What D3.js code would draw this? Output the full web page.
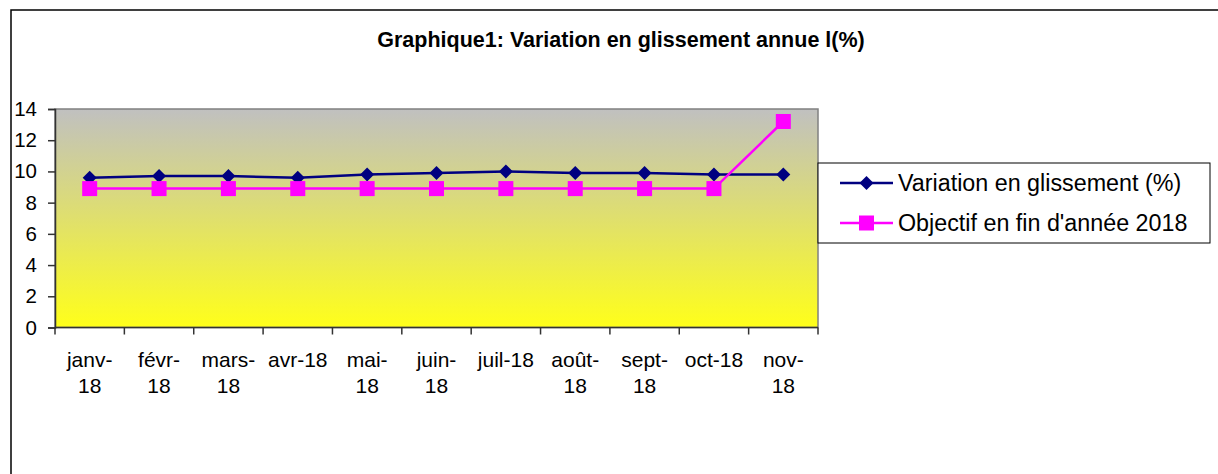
<!DOCTYPE html>
<html>
<head>
<meta charset="utf-8">
<script src="https://cdn.jsdelivr.net/npm/d3@7"></script>
<style>
  body { margin: 0; background: #fff; }
  svg { display: block; font-family: "Liberation Sans", Arial, sans-serif; }
</style>
</head>
<body>
<svg id="chart" width="1218" height="474"></svg>
<script>
const months = ["janv-18", "févr-18", "mars-18", "avr-18", "mai-18", "juin-18", "juil-18", "août-18", "sept-18", "oct-18", "nov-18"];
// how the axis wraps each label
const monthLines = [["janv-", "18"], ["févr-", "18"], ["mars-", "18"], ["avr-18"], ["mai-", "18"], ["juin-", "18"], ["juil-18"], ["août-", "18"], ["sept-", "18"], ["oct-18"], ["nov-", "18"]];
const variation = [9.6, 9.7, 9.7, 9.6, 9.8, 9.9, 10.0, 9.9, 9.9, 9.8, 9.8];
const objectif = [8.9, 8.9, 8.9, 8.9, 8.9, 8.9, 8.9, 8.9, 8.9, 8.9, 13.2];
const yTicks = [0, 2, 4, 6, 8, 10, 12, 14];

const svg = d3.select("#chart");
const plot = {left: 55, top: 109, right: 818, bottom: 327.5};

// outer frame (right and bottom edges fall outside the picture)
svg.append("rect")
    .attr("x", 11).attr("y", 10)
    .attr("width", 1240).attr("height", 500)
    .attr("fill", "none").attr("stroke", "#000").attr("stroke-width", 1.5);

svg.append("text")
    .attr("x", 621).attr("y", 47)
    .attr("text-anchor", "middle")
    .attr("font-size", 21.5).attr("font-weight", "bold")
    .text("Graphique1: Variation en glissement annue l(%)");

const defs = svg.append("defs");
const grad = defs.append("linearGradient")
    .attr("id", "bg").attr("x1", 0).attr("y1", 0).attr("x2", 0).attr("y2", 1);
grad.append("stop").attr("offset", "0%").attr("stop-color", "#c0c0c0");
grad.append("stop").attr("offset", "100%").attr("stop-color", "#ffff1a");

const x = d3.scaleBand().domain(months).range([plot.left, plot.right]);
const y = d3.scaleLinear().domain([0, 14]).range([plot.bottom, plot.top]);

svg.append("rect")
    .attr("x", plot.left).attr("y", plot.top)
    .attr("width", plot.right - plot.left).attr("height", plot.bottom - plot.top)
    .attr("fill", "url(#bg)")
    .attr("stroke", "#808080").attr("stroke-width", 1.5);

// y axis
const yAxis = svg.append("g")
    .attr("transform", `translate(${plot.left},0)`)
    .call(d3.axisLeft(y).tickValues(yTicks).tickSize(7).tickPadding(11));
yAxis.select(".domain").attr("stroke", "#333").attr("stroke-width", 1.5);
yAxis.selectAll(".tick line").attr("stroke", "#333").attr("stroke-width", 1.5);
yAxis.selectAll(".tick text").attr("font-size", 20.5).attr("fill", "#000")
    .attr("font-family", "Liberation Sans, Arial, sans-serif");

// x axis: ticks at category boundaries
const xAxis = svg.append("g").attr("transform", `translate(0,${plot.bottom})`);
xAxis.append("line")
    .attr("x1", plot.left).attr("x2", plot.right)
    .attr("stroke", "#333").attr("stroke-width", 1.5);
const bounds = months.map(m => x(m)).concat([x.range()[1]]);
xAxis.selectAll(".xt").data(bounds).join("line")
    .attr("x1", d => d).attr("x2", d => d)
    .attr("y1", 0).attr("y2", 7)
    .attr("stroke", "#333").attr("stroke-width", 1.5);
xAxis.selectAll(".xl").data(months).join("text")
    .attr("text-anchor", "middle")
    .attr("font-size", 21)
    .attr("transform", d => `translate(${x(d) + x.bandwidth() / 2},39.5)`)
    .each(function(d, i) {
        d3.select(this).selectAll("tspan").data(monthLines[i]).join("tspan")
            .attr("x", 0).attr("dy", (t, j) => j === 0 ? 0 : 26)
            .text(t => t);
    });

const cx = i => x(months[i]) + x.bandwidth() / 2;
const line = d3.line().x((d, i) => cx(i)).y(d => y(d));

svg.append("path").datum(variation)
    .attr("d", line).attr("fill", "none")
    .attr("stroke", "#000080").attr("stroke-width", 2.5);
svg.append("path").datum(objectif)
    .attr("d", line).attr("fill", "none")
    .attr("stroke", "#ff00ff").attr("stroke-width", 2.5);

// diamond = square turned 45 degrees
const diamond = d3.symbol().type(d3.symbolSquare).size(98);
svg.selectAll(".dia").data(variation).join("path")
    .attr("d", diamond)
    .attr("transform", (d, i) => `translate(${cx(i)},${y(d)}) rotate(45)`)
    .attr("fill", "#000080");
svg.selectAll(".sq").data(objectif).join("rect")
    .attr("x", (d, i) => cx(i) - 7.5).attr("y", d => y(d) - 7.5)
    .attr("width", 15).attr("height", 15)
    .attr("fill", "#ff00ff");

// legend
const legend = svg.append("g");
legend.append("rect")
    .attr("x", 818).attr("y", 163).attr("width", 392).attr("height", 80)
    .attr("fill", "#fff").attr("stroke", "#000").attr("stroke-width", 1);
const items = [
    {name: "Variation en glissement (%)", color: "#000080", mark: "diamond"},
    {name: "Objectif en fin d'année 2018", color: "#ff00ff", mark: "square"}
];
items.forEach((it, i) => {
    const ly = 183 + i * 40;
    legend.append("line")
        .attr("x1", 840).attr("x2", 893).attr("y1", ly).attr("y2", ly)
        .attr("stroke", it.color).attr("stroke-width", 2.5);
    if (it.mark === "diamond") {
        legend.append("path").attr("d", diamond)
            .attr("transform", `translate(866.5,${ly}) rotate(45)`)
            .attr("fill", it.color);
    } else {
        legend.append("rect").attr("x", 859).attr("y", ly - 7.5)
            .attr("width", 15).attr("height", 15).attr("fill", it.color);
    }
    legend.append("text")
        .attr("x", 898).attr("y", ly + 8)
        .attr("font-size", 23.3)
        .text(it.name);
});
</script>
</body>
</html>
